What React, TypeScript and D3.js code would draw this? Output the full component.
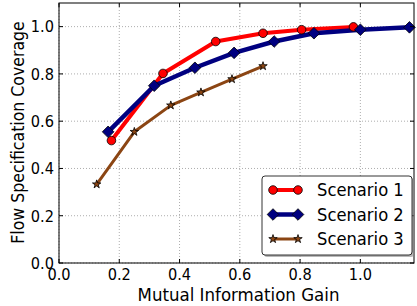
import React from 'react';
import * as d3 from 'd3';

const seriesNames = ['Scenario 1', 'Scenario 2', 'Scenario 3'];
const s1x = [0.174, 0.345, 0.52, 0.677, 0.805, 0.977];
const s1y = [0.518, 0.802, 0.937, 0.972, 0.987, 0.999];
const s2x = [0.163, 0.316, 0.451, 0.581, 0.714, 0.846, 1.0, 1.163];
const s2y = [0.555, 0.75, 0.826, 0.889, 0.937, 0.972, 0.987, 0.997];
const s3x = [0.125, 0.25, 0.371, 0.471, 0.574, 0.677];
const s3y = [0.333, 0.555, 0.667, 0.722, 0.778, 0.833];
const xTicks = [0, 0.2, 0.4, 0.6, 0.8, 1.0];
const yTicks = [0, 0.2, 0.4, 0.6, 0.8, 1.0];

const colors = ['#ff0000', '#000080', '#8b4513'];
const widths = [4, 4.5, 3];
const font = '"DejaVu Sans Condensed", "DejaVu Sans", sans-serif';

const W = 417;
const H = 306;
const margin = { top: 3, right: 3, bottom: 43, left: 59 };

const x = d3.scaleLinear().domain([0, 1.178]).range([margin.left, W - margin.right]);
const y = d3.scaleLinear().domain([0, 1.1]).range([H - margin.bottom, margin.top]);

const series = [
	{ xs: s1x, ys: s1y },
	{ xs: s2x, ys: s2y },
	{ xs: s3x, ys: s3y },
];

const line = d3.line<[number, number]>().x((d) => x(d[0])).y((d) => y(d[1]));

const Marker = ({ kind, cx, cy }: { kind: number; cx: number; cy: number }) => {
	if (kind === 0) {
		return <circle cx={cx} cy={cy} r={4.3} fill={colors[0]} stroke="#000" strokeWidth={0.8} />;
	}
	if (kind === 1) {
		const s = 5.8;
		return (
			<path
				d={`M${cx},${cy - s}L${cx + s},${cy}L${cx},${cy + s}L${cx - s},${cy}Z`}
				fill={colors[1]}
				stroke="#000"
				strokeWidth={0.8}
			/>
		);
	}
	const star = d3.symbol().type(d3.symbolStar).size(22)();
	return <path d={star || ''} transform={`translate(${cx},${cy})`} fill={colors[2]} stroke="#000" strokeWidth={0.8} />;
};

const App = () => {
	const x0 = margin.left;
	const x1 = W - margin.right;
	const y0 = H - margin.bottom;
	const y1 = margin.top;

	const legX = 262;
	const legY = 176;
	const legW = 150;
	const legH = 79;
	const rowY = [190, 214.5, 239];

	return (
		<svg width={W} height={H} style={{ position: 'absolute', left: 0, top: 0 }}>
			<rect x={0} y={0} width={W} height={H} fill="#fff" />
			{/* grid */}
			{xTicks.map((t) => (
				<line key={`gx${t}`} x1={x(t)} x2={x(t)} y1={y0} y2={y1} stroke="#000" strokeOpacity={0.55} strokeWidth={0.6} strokeDasharray="1,2" />
			))}
			{yTicks.map((t) => (
				<line key={`gy${t}`} x1={x0} x2={x1} y1={y(t)} y2={y(t)} stroke="#000" strokeOpacity={0.55} strokeWidth={0.6} strokeDasharray="1,2" />
			))}
			{/* lines */}
			{series.map((s, i) => (
				<path
					key={`l${i}`}
					d={line(s.xs.map((v, j) => [v, s.ys[j]] as [number, number])) || ''}
					fill="none"
					stroke={colors[i]}
					strokeWidth={widths[i]}
					strokeLinejoin="round"
				/>
			))}
			{series.map((s, i) =>
				s.xs.map((v, j) => <Marker key={`m${i}-${j}`} kind={i} cx={x(v)} cy={y(s.ys[j])} />)
			)}
			{/* ticks */}
			{xTicks.map((t) => (
				<g key={`tx${t}`}>
					<line x1={x(t)} x2={x(t)} y1={y0} y2={y0 - 4} stroke="#000" />
					<line x1={x(t)} x2={x(t)} y1={y1} y2={y1 + 4} stroke="#000" />
					<text x={x(t)} y={280} textAnchor="middle" fontFamily={font} fontSize={16.2}>
						{t.toFixed(1)}
					</text>
				</g>
			))}
			{yTicks.map((t) => (
				<g key={`ty${t}`}>
					<line x1={x0} x2={x0 + 4} y1={y(t)} y2={y(t)} stroke="#000" />
					<line x1={x1} x2={x1 - 4} y1={y(t)} y2={y(t)} stroke="#000" />
					<text x={x0 - 5} y={y(t) + 5.8} textAnchor="end" fontFamily={font} fontSize={16.2}>
						{t.toFixed(1)}
					</text>
				</g>
			))}
			<rect x={x0} y={y1} width={x1 - x0} height={y0 - y1} fill="none" stroke="#000" strokeWidth={1} />
			{/* axis labels */}
			<text x={(x0 + x1) / 2 + 2} y={301} textAnchor="middle" fontFamily={font} fontSize={18.5}>
				Mutual Information Gain
			</text>
			<text
				transform={`translate(23.5,132.5) rotate(-90)`}
				textAnchor="middle"
				fontFamily={font}
				fontSize={17.5}
			>
				Flow Specification Coverage
			</text>
			{/* legend */}
			<rect x={legX + 2} y={legY + 2} width={legW} height={legH} rx={3} fill="#888" fillOpacity={0.6} />
			<rect x={legX} y={legY} width={legW} height={legH} rx={3} fill="#fff" stroke="#000" strokeWidth={0.8} />
			{seriesNames.map((name, i) => (
				<g key={name}>
					<line x1={273} x2={298} y1={rowY[i]} y2={rowY[i]} stroke={colors[i]} strokeWidth={widths[i]} />
					<Marker kind={i} cx={273} cy={rowY[i]} />
					<Marker kind={i} cx={298} cy={rowY[i]} />
					<text x={317} y={rowY[i] + 6} fontFamily={font} fontSize={18.2}>
						{name}
					</text>
				</g>
			))}
		</svg>
	);
};

export default App;
